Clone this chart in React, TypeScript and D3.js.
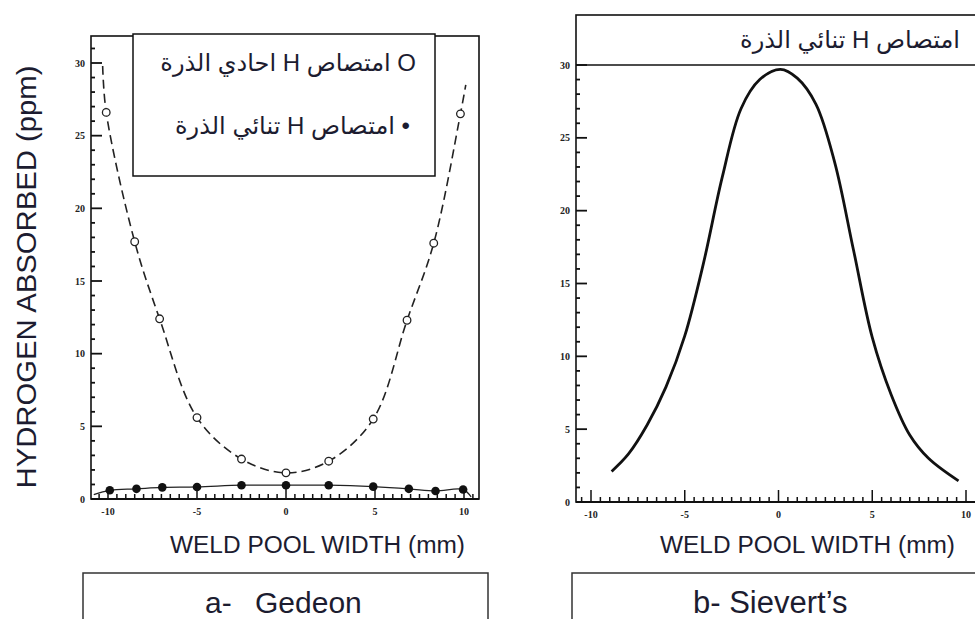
import * as d3 from "d3";

// panel a (Gedeon): open circles = monatomic H, filled dots = diatomic H
const gedeonX = [-10.1, -8.5, -7.1, -5.0, -2.5, 0, 2.4, 4.9, 6.8, 8.3, 9.8];
const monoH = [26.6, 17.7, 12.4, 5.6, 2.75, 1.8, 2.6, 5.5, 12.3, 17.6, 26.5];
const monoCurveX = [-10.3, -10.1, -8.5, -7.1, -5.0, -2.5, 0, 2.4, 4.9, 6.8, 8.3, 9.8, 10.1];
const monoCurveH = [29.8, 26.6, 17.7, 12.4, 5.6, 2.75, 1.8, 2.6, 5.5, 12.3, 17.6, 26.5, 28.5];

const diX = [-9.9, -8.4, -6.95, -5.0, -2.5, 0, 2.4, 4.9, 6.9, 8.4, 9.95];
const diH = [0.6, 0.7, 0.8, 0.83, 0.95, 0.95, 0.95, 0.85, 0.7, 0.55, 0.65];
const diCurveX = [-10.8, -9.9, -8.4, -6.95, -5.0, -2.5, 0, 2.4, 4.9, 6.9, 8.4, 9.95, 10.4];
const diCurveH = [0.3, 0.6, 0.7, 0.8, 0.83, 0.95, 0.95, 0.95, 0.85, 0.7, 0.55, 0.65, 0.15];

// panel b (Sievert's law curve)
const sievertX = [-8.9, -8.0, -7.0, -6.0, -5.0, -4.0, -3.0, -2.0, -1.0, 0.1, 1.0, 2.0, 3.0, 4.0, 5.0, 6.0, 7.0, 8.0, 9.6];
const sievertH = [2.1, 3.3, 5.3, 7.9, 11.4, 16.4, 22.3, 27.0, 29.0, 29.7, 29.1, 27.3, 23.3, 17.3, 11.3, 7.4, 4.6, 3.0, 1.45];

const xTicks = [-10, -5, 0, 5, 10];
const yTicks = [0, 5, 10, 15, 20, 25, 30];

const legendMono = "O امتصاص H احادي الذرة";
const legendDi = "•  امتصاص H تنائي الذرة";
const legendB = "امتصاص H تنائي الذرة";
const yTitle = "HYDROGEN ABSORBED (ppm)";
const xTitle = "WELD POOL WIDTH (mm)";

const tickFont = "Liberation Serif, serif";
const textFont = "Liberation Sans, DejaVu Sans, sans-serif";

interface AxesProps {
  x: d3.ScaleLinear<number, number>;
  y: d3.ScaleLinear<number, number>;
  left: number;
  right: number;
  bottom: number;
  yMinorMax: number;
}

function Axes({ x, y, left, right, bottom, yMinorMax }: AxesProps) {
  const xMinor = d3.range(-10.5, 10.51, 0.5).filter((v) => x(v) > left + 2 && x(v) < right - 2);
  const yMinor = d3.range(0, yMinorMax + 0.01, 1);
  return (
    <g>
      <line x1={left} x2={right} y1={bottom} y2={bottom} stroke="#111" strokeWidth={1.8} />
      {xMinor.map((v) => (
        <line key={"xm" + v} x1={x(v)} x2={x(v)} y1={bottom} y2={bottom - (Math.abs(v % 5) === 0 ? 12 : 5)} stroke="#111" strokeWidth={1.5} />
      ))}
      {xTicks.map((v) => (
        <text key={"xl" + v} x={x(v)} y={bottom + 16} textAnchor="middle" fontFamily={tickFont} fontWeight="bold" fontSize={10} fill="#222">
          {v}
        </text>
      ))}
      {yMinor.map((v) => (
        <line key={"ym" + v} x1={left} x2={left + (v % 5 === 0 ? 11 : 4)} y1={y(v)} y2={y(v)} stroke="#111" strokeWidth={1.8} />
      ))}
      {yTicks.map((v) => (
        <text key={"yl" + v} x={left - 6} y={y(v) + 3.5} textAnchor="end" fontFamily={tickFont} fontWeight="bold" fontSize={10} fill="#222">
          {v}
        </text>
      ))}
    </g>
  );
}

export default function App() {
  const width = 975;
  const height = 619;

  // panel a
  const xa = d3.scaleLinear().domain([-10, 10]).range([108, 464]);
  const ya = d3.scaleLinear().domain([0, 30]).range([499, 63]);
  // panel b
  const xb = d3.scaleLinear().domain([-10, 10]).range([591, 966]);
  const yb = d3.scaleLinear().domain([0, 30]).range([502, 65]);

  const lineA = d3
    .line<number>()
    .x((d) => xa(d))
    .curve(d3.curveCatmullRom.alpha(0.5));

  const monoPath = lineA.y((_, i) => ya(monoCurveH[i]))(monoCurveX) ?? "";
  const diPath = lineA.y((_, i) => ya(diCurveH[i]))(diCurveX) ?? "";
  const sievertPath =
    d3
      .line<number>()
      .x((d) => xb(d))
      .y((_, i) => yb(sievertH[i]))
      .curve(d3.curveCatmullRom.alpha(0.5))(sievertX) ?? "";

  return (
    <svg width={width} height={height} style={{ position: "absolute", left: 0, top: 0, background: "#fff" }}>
      {/* ---------- panel a ---------- */}
      <rect x={91} y={36} width={388} height={463} fill="none" stroke="#111" strokeWidth={1.6} />
      <Axes x={xa} y={ya} left={91} right={479} bottom={499} yMinorMax={31} />

      <path d={monoPath} fill="none" stroke="#222" strokeWidth={1.6} strokeDasharray="9 5" />
      <path d={diPath} fill="none" stroke="#222" strokeWidth={1.3} />
      {gedeonX.map((v, i) => (
        <circle key={"o" + i} cx={xa(v)} cy={ya(monoH[i])} r={3.8} fill="#fff" stroke="#222" strokeWidth={1.3} />
      ))}
      {diX.map((v, i) => (
        <circle key={"f" + i} cx={xa(v)} cy={ya(diH[i])} r={4.3} fill="#111" />
      ))}

      {/* legend box */}
      <rect x={133} y={34} width={302} height={142} fill="#fff" stroke="#111" strokeWidth={1.5} />
      <text x={416} y={71} textAnchor="start" fontFamily={textFont} fontSize={24} fill="#1c1c30" style={{ direction: "rtl", unicodeBidi: "embed" }}>
        {legendMono}
      </text>
      <text x={410} y={134} textAnchor="start" fontFamily={textFont} fontSize={24} fill="#1c1c30" style={{ direction: "rtl", unicodeBidi: "embed" }}>
        {legendDi}
      </text>

      {/* y title */}
      <text transform="translate(36,277) rotate(-90)" textAnchor="middle" fontFamily={textFont} fontSize={27} fill="#1c1c30" textLength={423} lengthAdjust="spacingAndGlyphs">
        {yTitle}
      </text>

      <text x={170} y={553} fontFamily={textFont} fontSize={23} fill="#1c1c30" textLength={295} lengthAdjust="spacingAndGlyphs">
        {xTitle}
      </text>

      <rect x={83} y={573} width={405} height={80} fill="#fff" stroke="#333" strokeWidth={1.5} />
      <text y={613} fontFamily={textFont} fontSize={30} fill="#1c1c30">
        <tspan x={205}>a-</tspan>
        <tspan x={255}>Gedeon</tspan>
      </text>

      {/* ---------- panel b ---------- */}
      <rect x={576} y={15} width={420} height={487} fill="none" stroke="#111" strokeWidth={1.6} />
      <line x1={576} x2={975} y1={yb(30)} y2={yb(30)} stroke="#111" strokeWidth={1.6} />
      <Axes x={xb} y={yb} left={576} right={975} bottom={502} yMinorMax={30} />
      <path d={sievertPath} fill="none" stroke="#111" strokeWidth={2.8} />
      <text x={960} y={48} textAnchor="start" fontFamily={textFont} fontSize={24} fill="#1c1c30" style={{ direction: "rtl", unicodeBidi: "embed" }}>
        {legendB}
      </text>

      <text x={660} y={553} fontFamily={textFont} fontSize={23} fill="#1c1c30" textLength={295} lengthAdjust="spacingAndGlyphs">
        {xTitle}
      </text>

      <rect x={572} y={573} width={420} height={80} fill="#fff" stroke="#333" strokeWidth={1.5} />
      <text x={693} y={613} fontFamily={textFont} fontSize={31} fill="#1c1c30">
        b- Sievert’s
      </text>
    </svg>
  );
}
